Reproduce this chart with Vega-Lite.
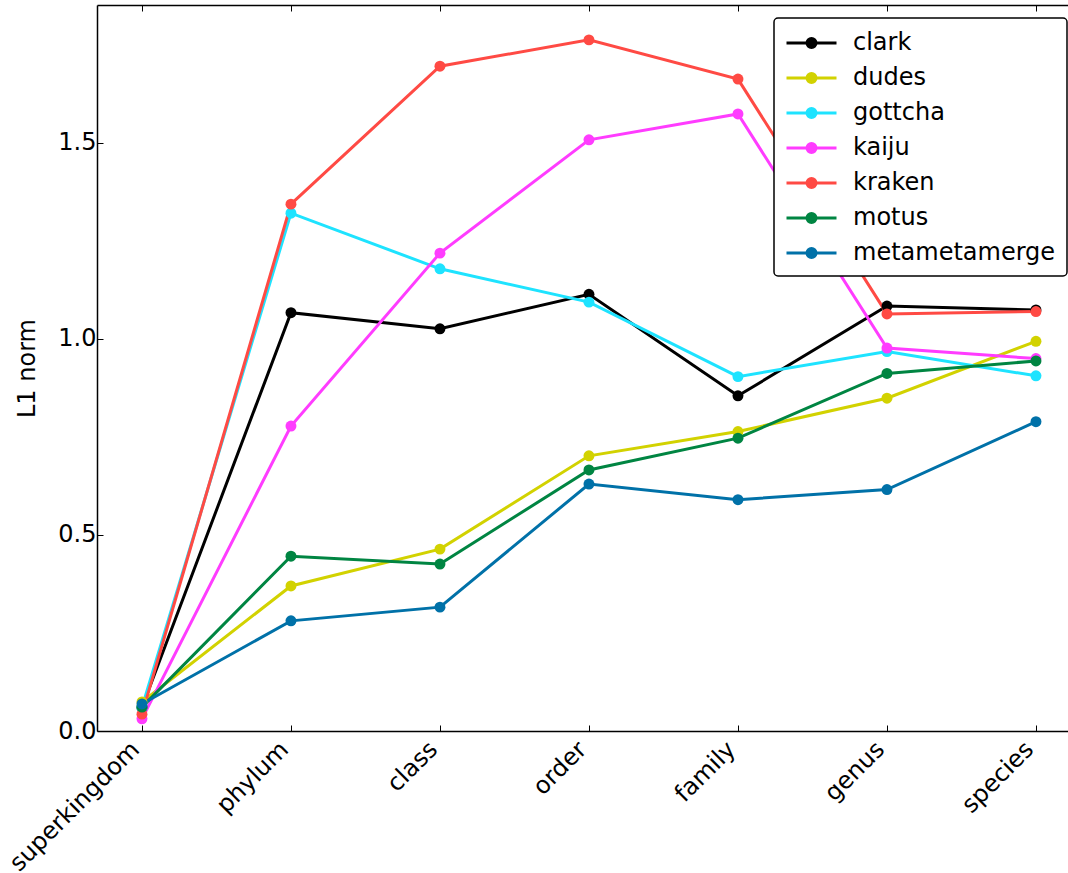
{
  "$schema": "https://vega.github.io/schema/vega-lite/v6.json",
  "width": 971,
  "height": 726,
  "autosize": {"type": "none"},
  "padding": {"left": 97, "top": 5, "right": 0, "bottom": 142},
  "background": "white",
  "config": {
    "view": {"stroke": null},
    "font": "DejaVu Sans",
    "axis": {"labelFont": "DejaVu Sans", "titleFont": "DejaVu Sans", "labelColor": "black", "titleColor": "black", "domainColor": "black", "tickColor": "black", "grid": false, "labelFontSize": 24, "titleFontSize": 24, "titleFontWeight": "normal", "domainWidth": 1.5, "tickWidth": 1}
  },
  "data": {"values": [
    {"rank": "superkingdom", "tool": "clark", "l1": 0.060},
    {"rank": "phylum", "tool": "clark", "l1": 1.067},
    {"rank": "class", "tool": "clark", "l1": 1.026},
    {"rank": "order", "tool": "clark", "l1": 1.114},
    {"rank": "family", "tool": "clark", "l1": 0.855},
    {"rank": "genus", "tool": "clark", "l1": 1.084},
    {"rank": "species", "tool": "clark", "l1": 1.074},
    {"rank": "superkingdom", "tool": "dudes", "l1": 0.074},
    {"rank": "phylum", "tool": "dudes", "l1": 0.370},
    {"rank": "class", "tool": "dudes", "l1": 0.464},
    {"rank": "order", "tool": "dudes", "l1": 0.702},
    {"rank": "family", "tool": "dudes", "l1": 0.764},
    {"rank": "genus", "tool": "dudes", "l1": 0.849},
    {"rank": "species", "tool": "dudes", "l1": 0.994},
    {"rank": "superkingdom", "tool": "gottcha", "l1": 0.060},
    {"rank": "phylum", "tool": "gottcha", "l1": 1.321},
    {"rank": "class", "tool": "gottcha", "l1": 1.179},
    {"rank": "order", "tool": "gottcha", "l1": 1.094},
    {"rank": "family", "tool": "gottcha", "l1": 0.904},
    {"rank": "genus", "tool": "gottcha", "l1": 0.968},
    {"rank": "species", "tool": "gottcha", "l1": 0.906},
    {"rank": "superkingdom", "tool": "kaiju", "l1": 0.031},
    {"rank": "phylum", "tool": "kaiju", "l1": 0.778},
    {"rank": "class", "tool": "kaiju", "l1": 1.219},
    {"rank": "order", "tool": "kaiju", "l1": 1.508},
    {"rank": "family", "tool": "kaiju", "l1": 1.574},
    {"rank": "genus", "tool": "kaiju", "l1": 0.977},
    {"rank": "species", "tool": "kaiju", "l1": 0.950},
    {"rank": "superkingdom", "tool": "kraken", "l1": 0.043},
    {"rank": "phylum", "tool": "kraken", "l1": 1.344},
    {"rank": "class", "tool": "kraken", "l1": 1.696},
    {"rank": "order", "tool": "kraken", "l1": 1.763},
    {"rank": "family", "tool": "kraken", "l1": 1.663},
    {"rank": "genus", "tool": "kraken", "l1": 1.064},
    {"rank": "species", "tool": "kraken", "l1": 1.070},
    {"rank": "superkingdom", "tool": "motus", "l1": 0.061},
    {"rank": "phylum", "tool": "motus", "l1": 0.446},
    {"rank": "class", "tool": "motus", "l1": 0.426},
    {"rank": "order", "tool": "motus", "l1": 0.666},
    {"rank": "family", "tool": "motus", "l1": 0.747},
    {"rank": "genus", "tool": "motus", "l1": 0.912},
    {"rank": "species", "tool": "motus", "l1": 0.944},
    {"rank": "superkingdom", "tool": "metametamerge", "l1": 0.069},
    {"rank": "phylum", "tool": "metametamerge", "l1": 0.281},
    {"rank": "class", "tool": "metametamerge", "l1": 0.316},
    {"rank": "order", "tool": "metametamerge", "l1": 0.630},
    {"rank": "family", "tool": "metametamerge", "l1": 0.590},
    {"rank": "genus", "tool": "metametamerge", "l1": 0.616},
    {"rank": "species", "tool": "metametamerge", "l1": 0.789}
  ]},
  "encoding": {
    "x": {"field": "rank", "type": "ordinal", "sort": ["superkingdom", "phylum", "class", "order", "family", "genus", "species"],
      "scale": {"type": "point", "padding": 0.2584, "align": 0.584}},
    "y": {"field": "l1", "type": "quantitative", "scale": {"domain": [0, 1.852], "nice": false, "zero": true},
      "axis": {"title": "L1 norm", "values": [0, 0.5, 1.0, 1.5], "format": ".1f", "tickSize": -6, "labelPadding": 7, "titlePadding": 18, "offset": 0}},
    "color": {"field": "tool", "type": "nominal",
      "scale": {"domain": ["clark", "dudes", "gottcha", "kaiju", "kraken", "motus", "metametamerge"],
        "range": ["#000000", "#d2d200", "#1ee3ff", "#ff3cff", "#ff4a44", "#008542", "#0071a8"]},
      "legend": {"orient": "none", "legendX": 677, "legendY": 13, "title": null,
        "labelFont": "DejaVu Sans", "labelFontSize": 24, "labelColor": "black", "labelOffset": 40, "labelLimit": 0,
        "fillColor": "white", "strokeColor": "black", "cornerRadius": 4, "padding": 11, "rowPadding": 9,
        "symbolType": "M-1,0H3M0.64,0A0.36,0.36,0,1,0,1.36,0A0.36,0.36,0,1,0,0.64,0Z",
        "symbolSize": 625, "symbolStrokeWidth": 3,
        "encode": {
          "legend": {"update": {"strokeWidth": {"value": 1.5}}},
          "symbols": {"update": {"fill": {"scale": "color", "field": "value"}, "stroke": {"scale": "color", "field": "value"}, "strokeWidth": {"value": 3}, "fillOpacity": {"value": 1}}}}}}
  },
  "layer": [
    {"mark": {"type": "line", "strokeWidth": 3},
     "encoding": {"x": {"field": "rank", "type": "ordinal", "sort": ["superkingdom", "phylum", "class", "order", "family", "genus", "species"],
        "axis": {"orient": "bottom", "title": null, "labelAngle": -45, "tickSize": -6, "labelPadding": 12, "labelOffset": -15, "domain": true}}}},
    {"mark": {"type": "point", "filled": true, "size": 120, "opacity": 1},
     "encoding": {"x": {"field": "rank", "type": "ordinal", "sort": ["superkingdom", "phylum", "class", "order", "family", "genus", "species"],
        "axis": {"orient": "top", "title": null, "labels": false, "tickSize": -6, "domain": true}}}}
  ],
  "resolve": {"axis": {"x": "independent"}}
}
